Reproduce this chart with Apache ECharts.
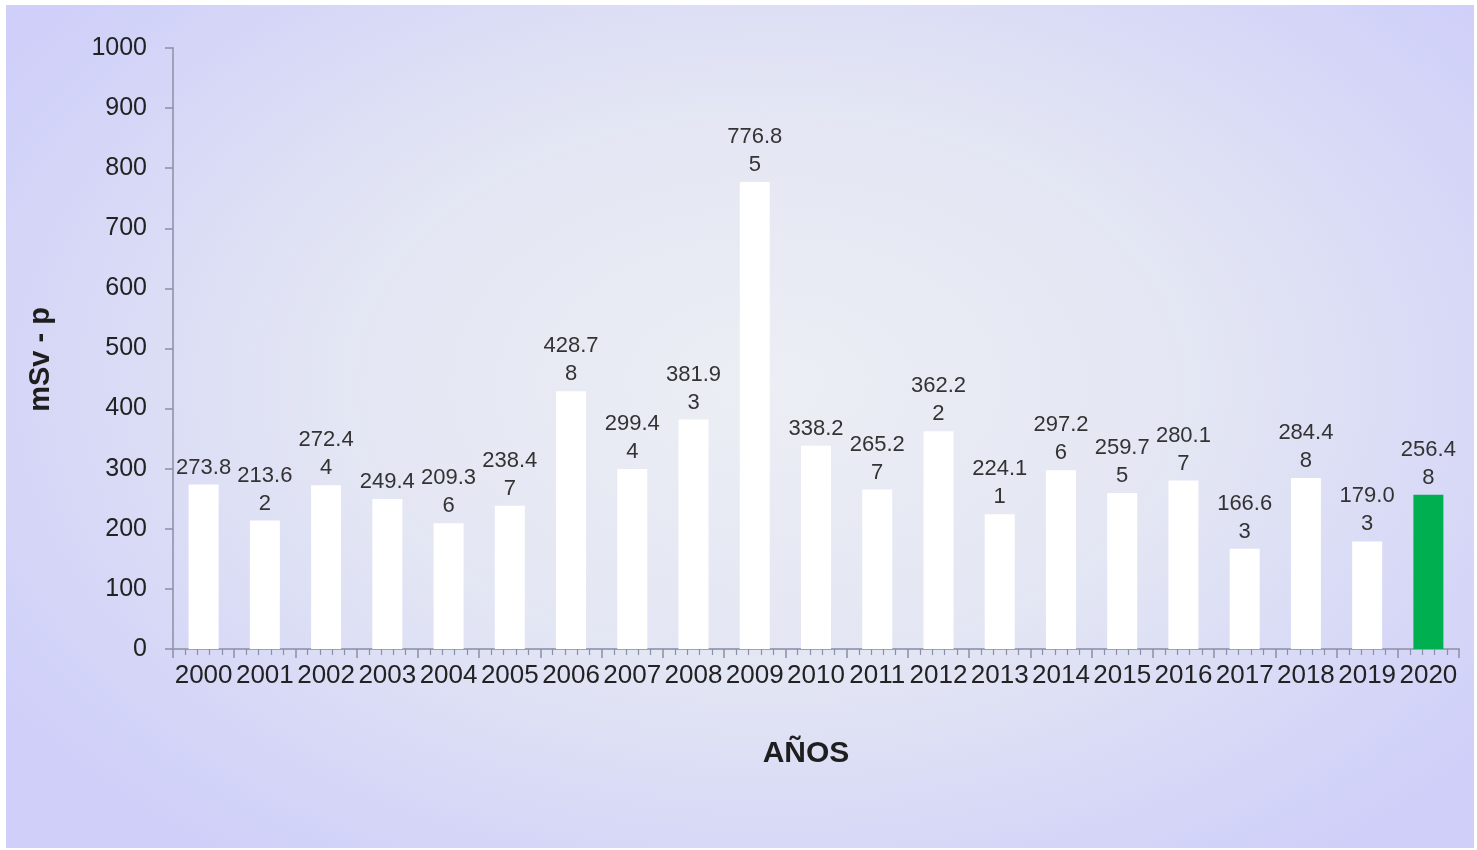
<!DOCTYPE html>
<html>
<head>
<meta charset="utf-8">
<script src="https://cdn.jsdelivr.net/npm/echarts@6/dist/echarts.min.js"></script>
<style>
	html, body { margin: 0; padding: 0; background: #ffffff; }
	#chart1 {
		position: absolute; left: 6px; top: 5px; width: 1468px; height: 843px;
		background: radial-gradient(ellipse 62% 70% at 52% 45%, #ebeef3 0%, #e4e7f3 45%, #cfcff9 100%);
	}
</style>
</head>
<body>
<div id="chart1"></div>
<script>
// 年份
var years = ['2000', '2001', '2002', '2003', '2004', '2005', '2006', '2007', '2008', '2009', '2010',
	'2011', '2012', '2013', '2014', '2015', '2016', '2017', '2018', '2019', '2020'];
// mSv - p
var dosis = [273.8, 213.62, 272.44, 249.4, 209.36, 238.47, 428.78, 299.44, 381.93, 776.85, 338.2,
	265.27, 362.22, 224.11, 297.26, 259.75, 280.17, 166.63, 284.48, 179.03, 256.48];
var yTicks = [0, 100, 200, 300, 400, 500, 600, 700, 800, 900, 1000];
var highlightYear = '2020';

initDosisChart();

function initDosisChart() {
	var myChart = echarts.init(document.getElementById('chart1'));
	var axisColor = '#9ea2b8';
	var tickColor = '#8a8ea6';
	var data = dosis.map(function(v, i) {
		return {
			value : v,
			itemStyle : { color : years[i] === highlightYear ? '#00b050' : '#ffffff' }
		};
	});
	var option = {
		backgroundColor : 'transparent',
		animation : false,
		grid : { left : 167, right : 15, top : 43, bottom : 199 },
		xAxis : [ {
			type : 'category',
			data : years,
			position : 'bottom',
			name : 'AÑOS',
			nameLocation : 'middle',
			nameGap : 90,
			nameTextStyle : { fontFamily : 'Liberation Sans', fontWeight : 'bold', fontSize : 30, color : '#1e1e1e', padding : [0, 20, 0, 0] },
			axisLine : { show : true, lineStyle : { color : axisColor, width : 2 } },
			axisTick : { show : false },
			axisLabel : { interval : 0, margin : 14, fontFamily : 'Liberation Sans', fontSize : 26, color : '#222' }
		}, {
			type : 'value',
			position : 'bottom',
			min : 0,
			max : years.length,
			interval : 1,
			axisLine : { show : true, lineStyle : { color : axisColor, width : 2 } },
			axisTick : { show : true, length : 9, lineStyle : { color : tickColor, width : 1.5 } },
			minorTick : { show : true, splitNumber : 5, length : 6, lineStyle : { color : tickColor, width : 1.2 } },
			axisLabel : { show : false },
			splitLine : { show : false }
		} ],
		yAxis : {
			type : 'value',
			min : yTicks[0],
			max : yTicks[yTicks.length - 1],
			interval : 100,
			name : 'mSv - p',
			nameLocation : 'middle',
			nameGap : 118,
			nameTextStyle : { fontFamily : 'Liberation Sans', fontWeight : 'bold', fontSize : 29, color : '#1e1e1e', padding : [0, 22, 0, 0] },
			axisLine : { show : true, lineStyle : { color : axisColor, width : 2 } },
			axisTick : { show : true, length : 8, lineStyle : { color : tickColor, width : 1.5 } },
			axisLabel : {
				margin : 26, fontFamily : 'Liberation Sans', fontSize : 25, color : '#222',
				formatter : function(v) { return String(v); }
			},
			splitLine : { show : false }
		},
		series : [ {
			type : 'bar',
			xAxisIndex : 0,
			barWidth : 30,
			data : data,
			label : {
				show : true,
				position : 'top',
				distance : 3,
				width : 60,
				overflow : 'breakAll',
				lineHeight : 28,
				fontFamily : 'Liberation Sans',
				fontSize : 22,
				color : '#333'
			}
		} ]
	};
	myChart.setOption(option);
}
</script>
</body>
</html>
